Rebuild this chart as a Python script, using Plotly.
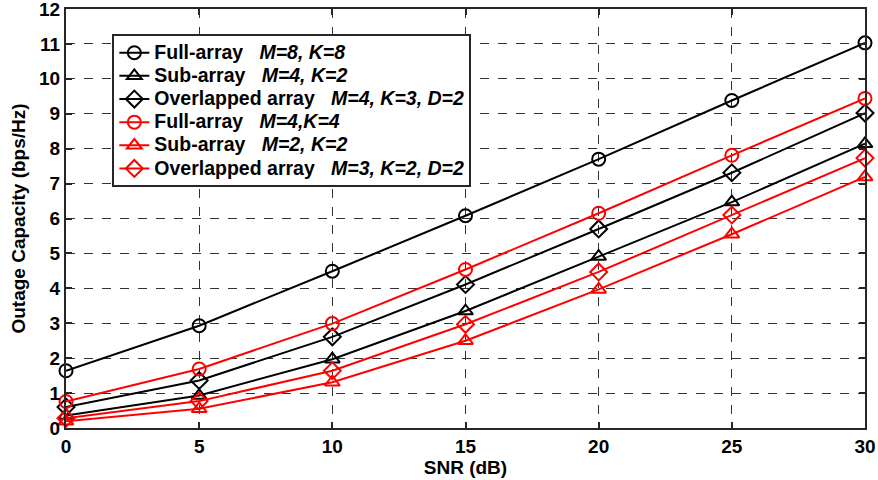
import plotly.graph_objects as go

snr = [0, 5, 10, 15, 20, 25, 30]

full_m8k8 = [1.64, 2.93, 4.49, 6.08, 7.70, 9.38, 11.03]
sub_m4k2 = [0.36, 0.93, 1.97, 3.35, 4.91, 6.47, 8.14]
ovl_m4k3d2 = [0.60, 1.36, 2.61, 4.11, 5.70, 7.31, 9.02]
full_m4k4 = [0.76, 1.69, 2.99, 4.54, 6.15, 7.81, 9.44]
sub_m2k2 = [0.19, 0.55, 1.31, 2.50, 3.97, 5.55, 7.19]
ovl_m3k2d2 = [0.28, 0.77, 1.64, 2.97, 4.47, 6.10, 7.73]

series = [
    ("Full-array", "M=8, K=8", full_m8k8, "black", "circle-open"),
    ("Sub-array", "M=4, K=2", sub_m4k2, "black", "triangle-up-open"),
    ("Overlapped array", "M=4, K=3, D=2", ovl_m4k3d2, "black", "diamond-open"),
    ("Full-array", "M=4,K=4", full_m4k4, "#ff0000", "circle-open"),
    ("Sub-array", "M=2, K=2", sub_m2k2, "#ff0000", "triangle-up-open"),
    ("Overlapped array", "M=3, K=2, D=2", ovl_m3k2d2, "#ff0000", "diamond-open"),
]

fig = go.Figure()
for base, params, ys, color, sym in series:
    label = ('<span style="font-size:19.5px">' + base + '&nbsp;&nbsp; <i>'
             + params + '</i></span>')
    fig.add_trace(go.Scatter(
        x=snr, y=ys, name=label, mode="lines+markers",
        line=dict(color=color, width=2),
        marker=dict(symbol=sym, size=13, color=color, line=dict(color=color, width=2)),
        cliponaxis=False,
    ))

font_family = "Liberation Sans, Arial, sans-serif"
axis_common = dict(
    showline=True, linecolor="#262626", linewidth=2, mirror="ticks",
    ticks="inside", ticklen=6, tickwidth=1.5, tickcolor="#262626",
    showgrid=True, gridcolor="#333333", gridwidth=1, griddash="dash",
    zeroline=False, ticklabeloverflow="allow", automargin=False,
    tickfont=dict(family=font_family, size=19, color="black", weight="bold"),
)

fig.update_layout(
    width=878, height=480,
    margin=dict(l=66, r=13, t=9, b=52),
    paper_bgcolor="white", plot_bgcolor="white",
    font=dict(family=font_family, color="black"),
    xaxis=dict(range=[0, 30], dtick=5, tick0=0,
               title=dict(text="<b>SNR (dB)</b>", font=dict(size=19), standoff=2),
               **axis_common),
    yaxis=dict(range=[0, 12], dtick=1, tick0=0,
               title=dict(text="<b>Outage Capacity (bps/Hz)</b>", font=dict(size=19), standoff=8),
               **axis_common),
    legend=dict(
        x=0.058, y=0.94, xanchor="left", yanchor="top",
        bgcolor="white", bordercolor="#262626", borderwidth=2,
        font=dict(family=font_family, size=15.5, color="black", weight="bold"),
        tracegroupgap=0, itemwidth=30,
    ),
    showlegend=True,
)

fig.write_html("out.html")
